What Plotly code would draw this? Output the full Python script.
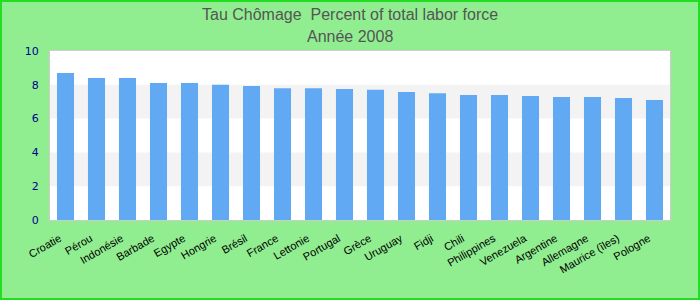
import plotly.graph_objects as go

countries = ["Croatie", "Pérou", "Indonésie", "Barbade", "Egypte", "Hongrie", "Brésil",
             "France", "Lettonie", "Portugal", "Grèce", "Uruguay", "Fidji", "Chili",
             "Philippines", "Venezuela", "Argentine", "Allemagne", "Maurice (îles)", "Pologne"]
values = [8.7, 8.4, 8.4, 8.1, 8.1, 8.0, 7.93, 7.8, 7.8, 7.75, 7.7, 7.57, 7.5, 7.4,
          7.4, 7.33, 7.28, 7.28, 7.22, 7.1]
y_ticks = [0, 2, 4, 6, 8, 10]
title_lines = ["Tau Chômage  Percent of total labor force", "Année 2008"]

W, H = 700, 300
ml, mr, mt, mb = 50, 30, 51, 80
pw, ph = W - ml - mr, H - mt - mb

fig = go.Figure(go.Bar(x=countries, y=values, marker_color="#62a9f4",
                       marker_line_width=0, hoverinfo="x+y"))

shapes = []
for i in range(len(y_ticks) - 1):
    if i % 2 == 1:
        shapes.append(dict(type="rect", xref="paper", yref="y", x0=0, x1=1,
                           y0=y_ticks[i], y1=y_ticks[i + 1], fillcolor="#f3f3f3",
                           line_width=0, layer="below"))
# figure border
shapes.append(dict(type="rect", xref="paper", yref="paper",
                   x0=(-ml + 1) / pw, x1=1 + (mr - 1) / pw,
                   y0=(-mb + 1) / ph, y1=1 + (mt - 1) / ph,
                   line=dict(color="#22dd22", width=2), fillcolor="rgba(0,0,0,0)",
                   layer="above"))

annotations = []
for k, line in enumerate(title_lines):
    yc = 14 + 22 * k  # pixel centre from top
    annotations.append(dict(text=line, xref="paper", yref="paper",
                            x=(W / 2 - ml) / pw, y=1 + (mt - yc) / ph,
                            xanchor="center", yanchor="middle", showarrow=False,
                            font=dict(family="Liberation Sans, Arial", size=16, color="#555555")))

fig.update_layout(
    width=W, height=H,
    margin=dict(l=ml, r=mr, t=mt, b=mb, pad=0),
    paper_bgcolor="#90ee90", plot_bgcolor="#ffffff",
    bargap=0.45,
    showlegend=False,
    shapes=shapes,
    annotations=annotations,
    xaxis=dict(tickangle=-30, tickfont=dict(family="Liberation Sans, Arial", size=11, color="#000000"),
               showline=True, linecolor="#cccccc", linewidth=1, mirror=True,
               showgrid=False, ticks="", ticklabelstandoff=7, ticklabelshift=-6),
    yaxis=dict(range=[0, 10], tickvals=y_ticks, showgrid=False, zeroline=False,
               tickfont=dict(family="DejaVu Sans", size=11, color="#00008b"),
               showline=True, linecolor="#cccccc", linewidth=1, mirror=True,
               ticks="", ticklabelstandoff=8),
)

fig.write_html("out.html")
